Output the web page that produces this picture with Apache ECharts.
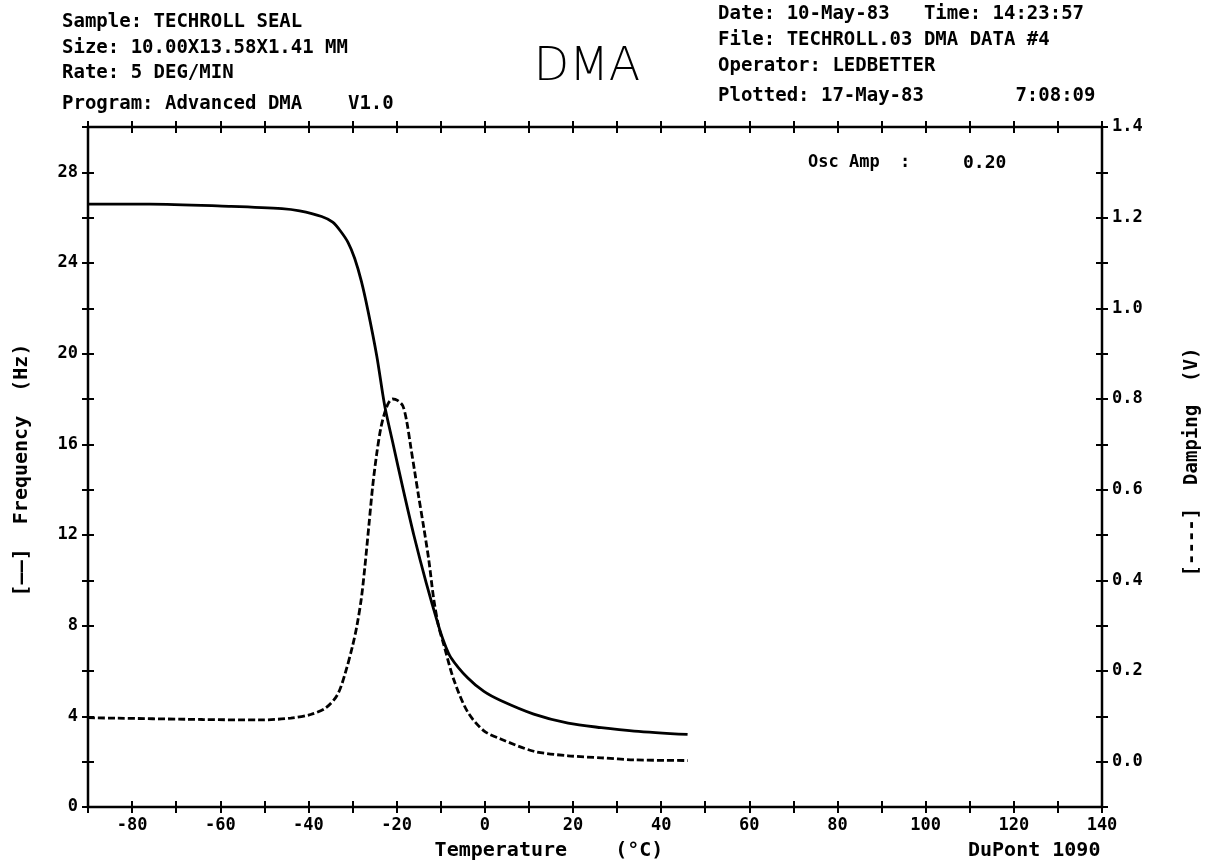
<!DOCTYPE html>
<html>
<head>
<meta charset="utf-8">
<script src="https://cdn.jsdelivr.net/npm/echarts@6/dist/echarts.min.js"></script>
<style>
html,body{margin:0;padding:0;background:#fff;}
#chart{width:1214px;height:867px;}
</style>
</head>
<body>
<div id="chart"></div>
<script>
// Frequency (solid, left axis)
var freqTemp = [-90, -76, -58, -46, -42, -37, -34.5, -32.7, -31, -29.5, -28, -26.5, -24.5, -22.7, -20.9, -18.5, -16.1, -13.3, -10.5, -9.3, -7.7, -3.9, -0.2, 3.6, 11.1, 18.9, 26.4, 33.9, 46];
var freqValue = [26.6, 26.6, 26.5, 26.4, 26.3, 26.05, 25.8, 25.4, 24.9, 24.2, 23.2, 21.9, 19.9, 17.7, 16.1, 14.0, 12.0, 9.9, 8.0, 7.3, 6.6, 5.7, 5.1, 4.7, 4.1, 3.7, 3.5, 3.35, 3.2];
// Damping (dashed, right axis)
var dampTemp = [-90, -64, -51, -44, -39.5, -36, -33.4, -31.6, -30, -29, -28, -27.2, -26.3, -25.4, -24.5, -23.6, -22.7, -21.8, -20.9, -19.8, -18.6, -17.7, -16.8, -15.9, -15, -13.9, -12.7, -11.6, -10.5, -9.3, -7, -3.9, -0.2, 3.6, 11.1, 18.9, 26.4, 33.9, 46];
var dampValue = [0.097, 0.093, 0.092, 0.096, 0.104, 0.119, 0.148, 0.197, 0.255, 0.30, 0.36, 0.43, 0.52, 0.61, 0.68, 0.735, 0.77, 0.792, 0.80, 0.797, 0.785, 0.75, 0.695, 0.64, 0.585, 0.52, 0.445, 0.36, 0.30, 0.258, 0.18, 0.11, 0.068, 0.05, 0.023, 0.013, 0.0085, 0.004, 0.0025];

var headerLeft = ['Sample: TECHROLL SEAL', 'Size: 10.00X13.58X1.41 MM', 'Rate: 5 DEG/MIN', 'Program: Advanced DMA    V1.0'];
var headerRight = ['Date: 10-May-83   Time: 14:23:57', 'File: TECHROLL.03 DMA DATA #4', 'Operator: LEDBETTER', 'Plotted: 17-May-83        7:08:09'];

function pairs(xs, ys){ var out=[]; for (var i=0;i<xs.length;i++) out.push([xs[i], ys[i]]); return out; }

var MONO = '"DejaVu Sans Mono", monospace';
var labelFont = {color:'#000', fontFamily: MONO, fontWeight:'bold', fontSize:17};
var tickStyle = {show:true, length:12, lineStyle:{color:'#000', width:2}};
var hiddenLine = {show:false, onZero:false};

var chart = echarts.init(document.getElementById('chart'), null, {renderer:'canvas'});
var hdrY = [22, 48, 73, 104];
var hdrRY = [14, 40, 66, 96];
var graphics = [];
headerLeft.forEach(function(t,i){
  graphics.push({type:'text', x:62, y:hdrY[i], style:{text:t, fill:'#000', font:'bold 19px ' + MONO, verticalAlign:'middle', align:'left'}});
});
headerRight.forEach(function(t,i){
  graphics.push({type:'text', x:718, y:hdrRY[i], style:{text:t, fill:'#000', font:'bold 19px ' + MONO, verticalAlign:'middle', align:'left'}});
});
graphics.push({type:'text', x:587, y:68, style:{text:'DMA', fill:'#000', font:'200 46px "DejaVu Sans"', verticalAlign:'middle', align:'center'}});
graphics.push({type:'text', x:808, y:163, style:{text:'Osc Amp  :', fill:'#000', font:'bold 17px ' + MONO, verticalAlign:'middle', align:'left'}});
graphics.push({type:'text', x:963, y:163, style:{text:'0.20', fill:'#000', font:'bold 18px ' + MONO, verticalAlign:'middle', align:'left'}});
graphics.push({type:'text', x:549, y:851, style:{text:'Temperature    (°C)', fill:'#000', font:'bold 20px ' + MONO, verticalAlign:'middle', align:'center'}});
graphics.push({type:'text', x:968, y:851, style:{text:'DuPont 1090', fill:'#000', font:'bold 20px ' + MONO, verticalAlign:'middle', align:'left'}});
graphics.push({type:'text', x:22, y:470, rotation:Math.PI/2, style:{text:'[——]  Frequency  (Hz)', fill:'#000', font:'bold 20px ' + MONO, verticalAlign:'middle', align:'center'}});
graphics.push({type:'text', x:1192, y:462, rotation:Math.PI/2, style:{text:'[----]  Damping  (V)', fill:'#000', font:'bold 19px ' + MONO, verticalAlign:'middle', align:'center'}});

var option = {
  backgroundColor:'#fff',
  animation:false,
  grid:{left:88, right:112, top:127, bottom:60, show:true, borderColor:'#000', borderWidth:2.5, backgroundColor:'transparent'},
  xAxis:[
    {type:'value', position:'bottom', min:-90, max:140, interval:10, offset:-6,
     axisLine:hiddenLine, axisTick:tickStyle, splitLine:{show:false},
     axisLabel:Object.assign({margin:16, formatter:function(v){return v%20===0 ? String(v) : '';}}, labelFont)},
    {type:'value', position:'top', min:-90, max:140, interval:10, offset:-6,
     axisLine:hiddenLine, axisTick:tickStyle, splitLine:{show:false}, axisLabel:{show:false}}
  ],
  yAxis:[
    {type:'value', position:'left', min:0, max:30, interval:2, offset:-6,
     axisLine:hiddenLine, axisTick:tickStyle, splitLine:{show:false},
     axisLabel:Object.assign({margin:16, formatter:function(v){return (Math.round(v)%4===0 && v<30) ? String(Math.round(v)) : '';}}, labelFont)},
    {type:'value', position:'right', min:-0.1, max:1.4, interval:0.1, offset:-6,
     axisLine:hiddenLine, axisTick:tickStyle, splitLine:{show:false},
     axisLabel:Object.assign({margin:16, formatter:function(v){var r=Math.round(v*10); return (r>=0 && r%2===0) ? (r/10).toFixed(1) : '';}}, labelFont)}
  ],
  series:[
    {name:'Frequency', type:'line', xAxisIndex:0, yAxisIndex:0, data:pairs(freqTemp, freqValue), showSymbol:false, smooth:0.3,
     lineStyle:{color:'#000', width:2.8, type:'solid'}},
    {name:'Damping', type:'line', xAxisIndex:0, yAxisIndex:1, data:pairs(dampTemp, dampValue), showSymbol:false, smooth:0.3,
     lineStyle:{color:'#000', width:2.8, type:[7,3]}}
  ],
  graphic:graphics
};
chart.setOption(option);
</script>
</body>
</html>
